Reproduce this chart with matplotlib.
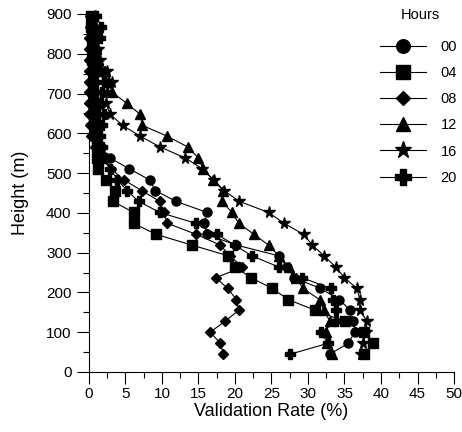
import matplotlib.pyplot as plt
from matplotlib.ticker import MultipleLocator

plt.rcParams['font.family'] = ['Liberation Sans', 'DejaVu Sans']

# heights (m) shared by every profile
heights = [45, 72, 100, 127, 155, 182, 210, 237, 264, 292, 319, 346, 374, 401, 429, 456,
           483, 511, 538, 566, 593, 620, 648, 675, 703, 730, 757, 785, 812, 839, 867, 894]

hours = ["00", "04", "08", "12", "16", "20"]

rate_00 = [33.0, 35.5, 36.4, 36.2, 35.8, 34.3, 31.7, 28.1, 27.1, 26.0, 20.2, 16.1, 15.8, 16.2, 11.9, 9.1,
           8.3, 5.5, 2.9, 1.6, 1.2, 1.0, 0.8, 0.6, 0.5, 0.4, 0.4, 0.5, 0.5, 0.5, 0.4, 0.4]
rate_04 = [37.7, 38.9, 37.7, 35.1, 31.0, 27.3, 25.1, 22.2, 20.0, 19.1, 14.1, 9.2, 6.1, 6.1, 3.3, 3.6,
           2.3, 1.3, 1.1, 1.1, 0.9, 0.9, 0.8, 0.7, 0.6, 0.6, 0.5, 0.4, 0.4, 0.4, 0.3, 0.3]
rate_08 = [18.4, 18.0, 16.6, 18.6, 20.5, 20.2, 19.0, 17.4, 21.0, 19.3, 18.0, 14.7, 10.7, 10.3, 9.7, 7.2,
           4.8, 3.0, 1.6, 0.8, 0.3, 0.1, 0.0, 0.0, 0.0, 0.0, 0.0, 0.0, 0.0, 0.0, 0.1, 0.1]
rate_12 = [33.3, 32.6, 32.5, 33.0, 32.2, 31.6, 29.3, 28.4, 27.4, 26.0, 24.6, 22.6, 20.5, 19.6, 18.2, 18.4,
           17.0, 15.6, 15.0, 13.5, 10.7, 7.3, 7.0, 5.2, 3.2, 2.6, 2.2, 1.2, 1.0, 0.8, 0.7, 0.6]
rate_16 = [37.2, 37.6, 37.9, 38.1, 37.1, 37.1, 36.7, 35.0, 33.8, 32.2, 30.6, 29.4, 26.7, 24.6, 20.6, 18.5,
           17.1, 15.5, 13.2, 9.7, 7.0, 4.6, 2.9, 2.3, 2.5, 3.1, 2.4, 1.5, 1.2, 1.0, 0.9, 0.8]
rate_20 = [27.6, 32.7, 31.8, 33.9, 33.8, 33.4, 33.1, 29.2, 26.0, 22.3, 20.0, 17.5, 14.6, 9.7, 6.8, 5.2,
           3.9, 2.9, 2.2, 1.8, 1.5, 1.8, 2.0, 1.6, 1.8, 2.0, 1.5, 1.0, 1.0, 1.5, 1.7, 1.0]

rates = [rate_00, rate_04, rate_08, rate_12, rate_16, rate_20]
markers = ["o", "s", "D", "^", "*", "P"]
sizes = [6.5, 6.5, 5.0, 6.5, 8.5, 7.5]

fig = plt.figure(figsize=(4.62, 4.32), dpi=100)
ax = fig.add_axes([0.1926, 0.1389, 0.7901, 0.8287])

for hr, vals, mk, ms in zip(hours, rates, markers, sizes):
    ax.plot(vals, heights, color="black", lw=0.8, marker=mk, ms=ms,
            mec="black", mfc="black", label=hr, clip_on=False)

ax.set_xlim(0, 50)
ax.set_ylim(0, 900)
ax.xaxis.set_major_locator(MultipleLocator(5))
ax.xaxis.set_minor_locator(MultipleLocator(2.5))
ax.yaxis.set_major_locator(MultipleLocator(100))
ax.yaxis.set_minor_locator(MultipleLocator(50))
ax.tick_params(which="major", length=8.6, width=0.8, labelsize=11, direction="out")
ax.tick_params(which="minor", length=4.3, width=0.8, direction="out")
ax.tick_params(axis="x", which="major", pad=2)
ax.tick_params(axis="y", which="major", pad=4)
for side in ["top", "right"]:
    ax.spines[side].set_visible(False)
ax.spines["left"].set_linewidth(0.8)
ax.spines["bottom"].set_linewidth(0.8)

ax.set_xlabel("Validation Rate (%)", fontsize=13, labelpad=2)
ax.set_ylabel("Height (m)", fontsize=13, labelpad=12)

# legend title sits apart from the entries
fig.text(420 / 462, 1 - 15 / 432, "Hours", fontsize=10.5, ha="center", va="center")
ax.legend(frameon=False, fontsize=10.5, markerscale=1.5,
          loc="upper left", bbox_to_anchor=(367 / 462, 1 - 27 / 432),
          bbox_transform=fig.transFigure,
          handlelength=3.15, labelspacing=0.83, handletextpad=1.0)

fig.savefig("out.png", dpi=100)
